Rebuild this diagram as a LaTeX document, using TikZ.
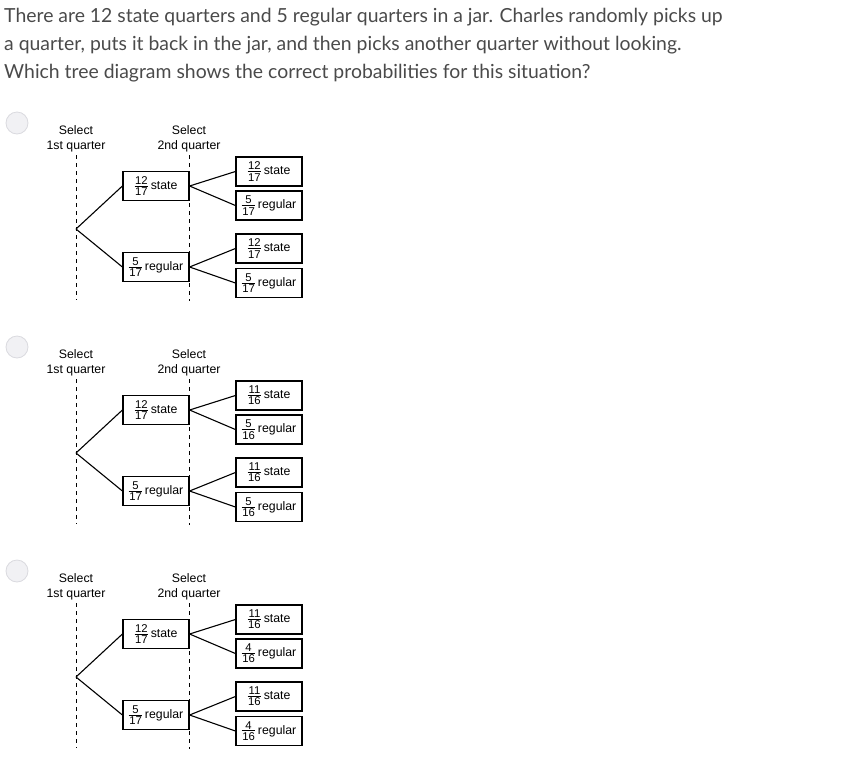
\documentclass[tikz,border=0pt]{standalone}
\usepackage{fontspec}
\setmainfont{Liberation Sans}
\newfontfamily\lato{Lato}
\definecolor{qtext}{HTML}{4A4A4A}
\definecolor{radiofill}{HTML}{F1F1F4}
\definecolor{radioline}{HTML}{DADADF}
\newcommand\dg{\fontsize{11.3}{12}\selectfont}
\newcommand\fr[2]{\ensuremath{\vcenter{\hbox{\vbox{\dg\offinterlineskip\halign{\hfil\kern0.6pt##\kern0.6pt\hfil\cr #1\cr\noalign{\kern1.3pt\hrule height0.8pt\kern1.3pt}#2\cr}}}}}\kern2.5pt}
\tikzset{
  qline/.style={font=\lato\fontsize{19.4}{22}\selectfont, text=qtext, anchor=base west, inner sep=0pt},
  radio/.style={circle, minimum size=22pt, inner sep=0pt, fill=radiofill, draw=radioline, line width=0.8pt},
  head/.style={font=\fontsize{12.3}{15}\selectfont, align=center, inner sep=0pt},
  guide/.style={dash pattern=on 4pt off 4pt, line width=1pt},
  pbox/.style={draw, fill=white, line width=1.2pt, minimum width=66pt, minimum height=29pt, inner sep=0pt, font=\fontsize{12.3}{14}\selectfont},
  branch/.style={line width=1.1pt},
}
\begin{document}
\begin{tikzpicture}[x=1pt,y=-1pt]
\useasboundingbox (0,0) rectangle (855,764);
\node[qline] (q1) at (4,22) {There are 12 state quarters and 5 regular quarters in a jar. Charles randomly picks up};
\node[qline] (q2) at (4,50) {a quarter, puts it back in the jar, and then picks another quarter without looking.};
\node[qline] (q3) at (4,78) {Which tree diagram shows the correct probabilities for this situation?};
\foreach \k/\dy/\an/\ad/\bn/\bd in {1/0/12/17/5/17, 2/224/11/16/5/16, 3/448/11/16/4/16}{
  \node[radio] (radio\k) at (17,123+\dy) {};
  \node[head] (h1\k) at (76,138.5+\dy) {Select\\1st quarter};
  \node[head] (h2\k) at (189,138.5+\dy) {Select\\2nd quarter};
  \coordinate (t1\k) at (76,155+\dy);
  \coordinate (b1\k) at (76,300+\dy);
  \coordinate (t2\k) at (189,155+\dy);
  \coordinate (b2\k) at (189,301+\dy);
  \draw[guide] (t1\k) -- (b1\k);
  \draw[guide] (t2\k) -- (b2\k);
  \coordinate (root\k) at (76,229+\dy);
  \node[pbox] (ls\k) at (156,186+\dy) {\fr{12}{17}state};
  \node[pbox] (lr\k) at (156,267+\dy) {\fr{5}{17}regular};
  \node[pbox] (ra\k) at (269,171.5+\dy) {\fr{\an}{\ad}state};
  \node[pbox] (rb\k) at (269,205.5+\dy) {\fr{\bn}{\bd}regular};
  \node[pbox] (rc\k) at (269,248.5+\dy) {\fr{\an}{\ad}state};
  \node[pbox] (rd\k) at (269,283+\dy) {\fr{\bn}{\bd}regular};
  \draw[branch] (root\k) -- (ls\k.west);
  \draw[branch] (root\k) -- (lr\k.west);
  \draw[branch] (ls\k.east) -- (ra\k.west);
  \draw[branch] (ls\k.east) -- (rb\k.west);
  \draw[branch] (lr\k.east) -- (rc\k.west);
  \draw[branch] (lr\k.east) -- (rd\k.west);
}
\end{tikzpicture}
\end{document}
